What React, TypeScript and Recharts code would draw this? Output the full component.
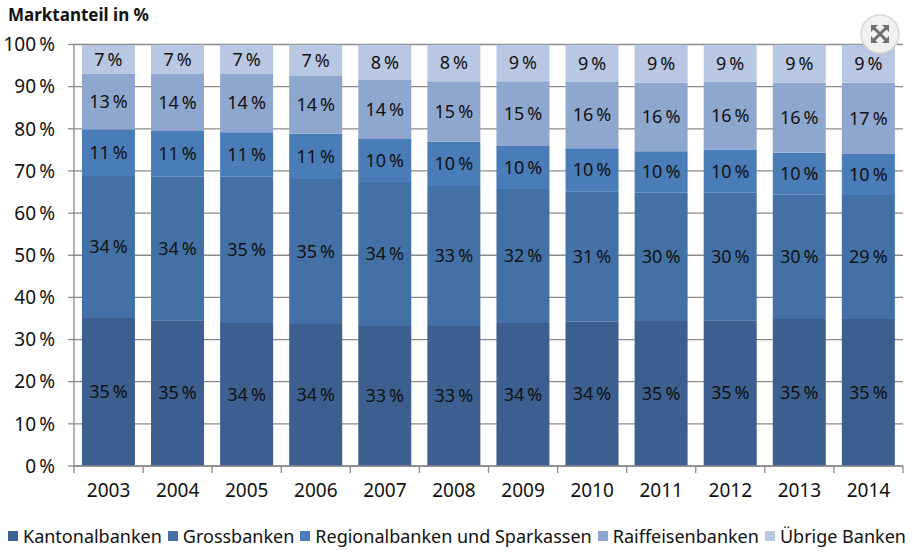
import React from "react";
import {
  BarChart,
  Bar,
  XAxis,
  YAxis,
  CartesianGrid,
  Legend,
  LabelList,
} from "recharts";

const FONT = "'Noto Sans', sans-serif";
const AXIS_COLOR = "#8a8a8a";
const BAND = 829 / 12;

const years = ["2003", "2004", "2005", "2006", "2007", "2008", "2009", "2010", "2011", "2012", "2013", "2014"];

// shares
const kantonal = [35.1, 34.6, 33.9, 33.7, 33.2, 33.2, 33.9, 34.2, 34.4, 34.6, 34.9, 34.9];
const gross = [33.7, 34, 34.7, 34.4, 34.2, 33.2, 31.8, 31, 30.4, 30.2, 29.6, 29.4];
const regional = [11.1, 10.9, 10.6, 10.7, 10.2, 10.5, 10.2, 10.2, 9.9, 10.2, 9.8, 9.7];
const raiffeisen = [13.2, 13.5, 13.8, 13.7, 14, 14.4, 15.4, 15.7, 16.2, 16.1, 16.6, 16.9];
const uebrige = [6.8, 7, 7, 7.5, 8.4, 8.7, 8.7, 8.9, 9.1, 8.9, 9.1, 9.1];

// printed labels are rounded and do not always match the heights
const kantonalLabels = [35, 35, 34, 34, 33, 33, 34, 34, 35, 35, 35, 35];
const grossLabels = [34, 34, 35, 35, 34, 33, 32, 31, 30, 30, 30, 29];
const regionalLabels = [11, 11, 11, 11, 10, 10, 10, 10, 10, 10, 10, 10];
const raiffeisenLabels = [13, 14, 14, 14, 14, 15, 15, 16, 16, 16, 16, 17];
const uebrigeLabels = [7, 7, 7, 7, 8, 8, 9, 9, 9, 9, 9, 9];

const series = [
  { key: "kantonal", name: "Kantonalbanken", values: kantonal, labels: kantonalLabels, color: "#3c5f8f" },
  { key: "gross", name: "Grossbanken", values: gross, labels: grossLabels, color: "#4371a5" },
  { key: "regional", name: "Regionalbanken und Sparkassen", values: regional, labels: regionalLabels, color: "#4a7cb8" },
  { key: "raiffeisen", name: "Raiffeisenbanken", values: raiffeisen, labels: raiffeisenLabels, color: "#8fa6cf" },
  { key: "uebrige", name: "Übrige Banken", values: uebrige, labels: uebrigeLabels, color: "#b8c7e2" },
];

const data = years.map((year, i) => {
  const row: Record<string, string | number> = { year };
  series.forEach((s) => {
    row[s.key] = s.values[i];
    row[`${s.key}Label`] = s.labels[i];
  });
  return row;
});

const percent = (v: number | string) => `${v}\u2009%`;

// tick marks sit between the categories, the year stays centred
const YearTick = ({ x, y, payload, index }: any) => (
  <g>
    <line x1={x - BAND / 2} x2={x - BAND / 2} y1={y - 8} y2={y - 1} stroke={AXIS_COLOR} strokeWidth={1.3} />
    {index === years.length - 1 && (
      <line x1={x + BAND / 2} x2={x + BAND / 2} y1={y - 8} y2={y - 1} stroke={AXIS_COLOR} strokeWidth={1.3} />
    )}
    <text x={x} y={y + 23} textAnchor="middle" fontSize={19} fill="#111" fontFamily={FONT}>
      {payload.value}
    </text>
  </g>
);

const LegendRow = () => (
  <div style={{ display: "flex", fontFamily: FONT, fontSize: 18, color: "#111", whiteSpace: "nowrap" }}>
    {series.map((s) => (
      <span key={s.key} style={{ display: "flex", alignItems: "center", marginRight: 6 }}>
        <span style={{ width: 10, height: 10, background: s.color, marginRight: 5 }} />
        {s.name}
      </span>
    ))}
  </div>
);

const ExpandButton = () => (
  <svg width={42} height={42} style={{ position: "absolute", left: 859, top: 13 }}>
    <circle cx={21} cy={21} r={19} fill="#f1f1f0" stroke="#d6d6d4" strokeWidth={1.5} />
    <path d="M14 14 L28 28 M28 14 L14 28" stroke="#707070" strokeWidth={3} />
    <path d="M12 12 h7 l-7 7 z M30 12 h-7 l7 7 z M12 30 h7 l-7 -7 z M30 30 h-7 l7 -7 z" fill="#707070" />
  </svg>
);

const App = () => {
  return (
    <div style={{ position: "absolute", left: 0, top: 0, width: 916, height: 558, background: "#fff" }}>
      <BarChart
        width={916}
        height={558}
        data={data}
        stackOffset="none"
        barCategoryGap="11.5%"
        margin={{ top: 44.5, right: 13, bottom: 0, left: 0 }}
      >
        <CartesianGrid horizontal vertical={false} stroke={AXIS_COLOR} strokeWidth={1.3} />
        <XAxis
          dataKey="year"
          height={62}
          interval={0}
          tick={<YearTick />}
          tickLine={false}
          stroke={AXIS_COLOR}
          strokeWidth={1.3}
        />
        <YAxis
          width={74}
          domain={[0, 100]}
          ticks={[0, 10, 20, 30, 40, 50, 60, 70, 80, 90, 100]}
          tickFormatter={percent}
          tickSize={6}
          tickMargin={13}
          allowDataOverflow
          stroke={AXIS_COLOR}
          strokeWidth={1.3}
          tick={{ fontSize: 19, fill: "#111", fontFamily: FONT }}
        />
        <Legend
          verticalAlign="bottom"
          height={30}
          content={<LegendRow />}
          wrapperStyle={{ left: 8, top: 524, width: 905 }}
        />
        {series.map((s) => (
          <Bar key={s.key} dataKey={s.key} name={s.name} stackId="share" fill={s.color} isAnimationActive={false}>
            <LabelList
              dataKey={`${s.key}Label`}
              position="center"
              formatter={percent}
              style={{ fontSize: 18, fill: "#111", fontFamily: FONT }}
            />
          </Bar>
        ))}
      </BarChart>
      <div
        style={{
          position: "absolute",
          left: 8,
          top: 3,
          fontFamily: FONT,
          fontSize: 17,
          fontWeight: 700,
          color: "#111",
        }}
      >
        Marktanteil in %
      </div>
      <ExpandButton />
    </div>
  );
};

export default App;
